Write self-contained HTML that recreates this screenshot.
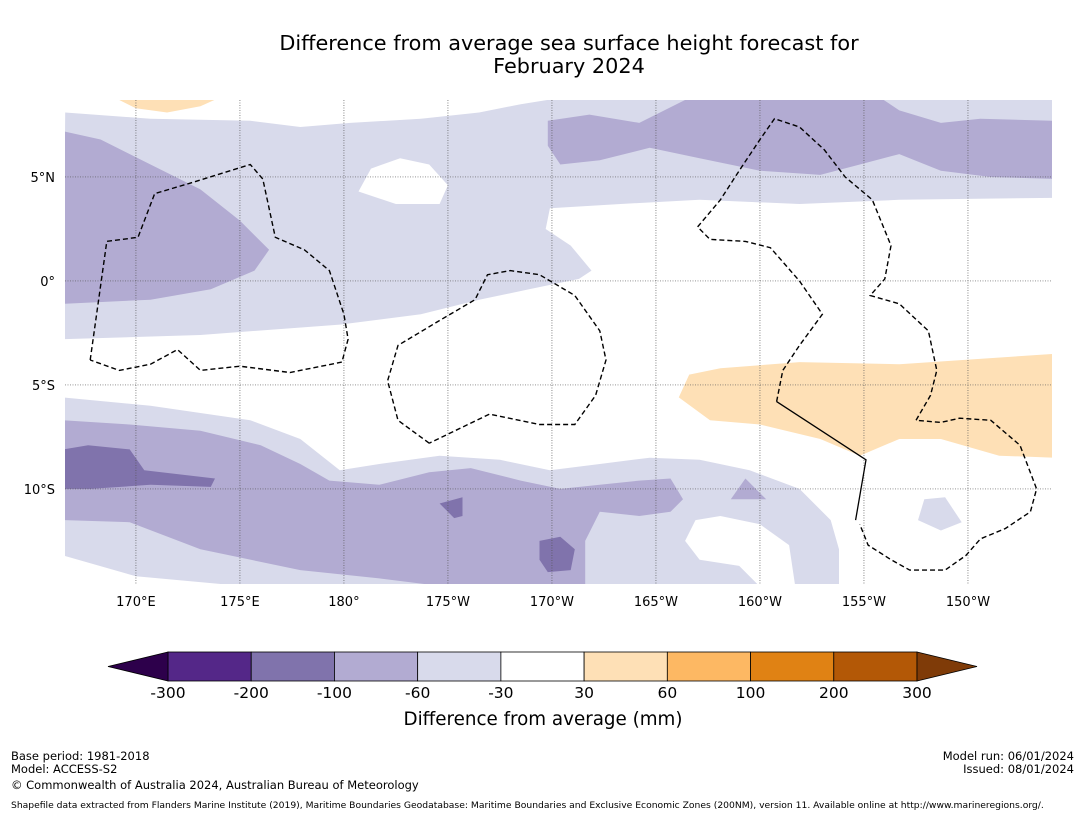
<!DOCTYPE html>
<html><head><meta charset="utf-8"><style>
body{margin:0;background:#fff;width:1085px;height:816px;overflow:hidden;font-family:"DejaVu Sans","Liberation Sans",sans-serif}
svg{position:absolute;left:0;top:0;font-family:"DejaVu Sans","Liberation Sans",sans-serif}
</style></head><body>
<svg id="chart" width="1085" height="816">
<text x="569" y="50" text-anchor="middle" font-size="20.8">Difference from average sea surface height forecast for</text>
<text x="569" y="73" text-anchor="middle" font-size="20.8">February 2024</text>
<g id="map"></g>
<g id="grid"></g>
<g id="eez"></g>
<g id="axes"></g>
<g id="cbar"></g>
<text x="543" y="725" text-anchor="middle" font-size="18.3">Difference from average (mm)</text>
<text x="11" y="760" font-size="11.5">Base period: 1981-2018</text>
<text x="11" y="773" font-size="11.5">Model: ACCESS-S2</text>
<text x="11" y="789" font-size="11.5">© Commonwealth of Australia 2024, Australian Bureau of Meteorology</text>
<text x="1074" y="760" text-anchor="end" font-size="11.5">Model run: 06/01/2024</text>
<text x="1074" y="773" text-anchor="end" font-size="11.5">Issued: 08/01/2024</text>
<text x="11" y="808" font-size="9.2">Shapefile data extracted from Flanders Marine Institute (2019), Maritime Boundaries Geodatabase: Maritime Boundaries and Exclusive Economic Zones (200NM), version 11. Available online at http://www.marineregions.org/.</text>
</svg>
<script>
const lonTicks=[170,175,180,185,190,195,200,205,210];
const lonLabels=["170°E","175°E","180°","175°W","170°W","165°W","160°W","155°W","150°W"];
const latTicks=[5,0,-5,-10];
const latLabels=["5°N","0°","5°S","10°S"];
const levels=["-300","-200","-100","-60","-30","30","60","100","200","300"];
const levelColors=["#542788","#8073ac","#b2abd2","#d8daeb","#ffffff","#fee0b6","#fdb863","#e08214","#b35806"];
const extColors=["#2d004b","#7f3b08"];
const LIGHT="#d8daeb",MED="#b2abd2",DARK="#8073ac",ORANGE="#fee0b6";
const lightTop=[[166.6,8.1],[170.7,7.8],[175.5,7.7],[177.9,7.4],[180.3,7.6],[183.7,7.8],[186.5,8.1],[188.5,8.5],[190.4,8.8],[214.2,8.8],[214.2,4.0],[206.7,3.9],[201.9,3.7],[197.1,3.9],[193.3,3.7],[189.9,3.5],[189.7,2.5],[190.9,1.7],[191.9,0.5],[191.3,0.1],[188.9,-0.4],[186.5,-0.9],[183.7,-1.6],[179.8,-2.1],[173.1,-2.6],[166.5,-2.8]];
const whiteHole=[[180.7,4.3],[181.3,5.4],[182.7,5.9],[184.1,5.6],[185.0,4.6],[184.6,3.7],[182.5,3.7]];
const medTopLeft=[[166.5,7.2],[168.3,6.8],[170.7,5.6],[173.1,4.4],[175.0,2.9],[176.4,1.5],[175.7,0.5],[173.6,-0.4],[170.7,-0.9],[166.5,-1.1]];
const medTopRight=[[189.8,7.7],[191.8,8.0],[194.2,7.6],[196.6,8.8],[205.8,8.8],[206.7,8.2],[208.7,7.6],[210.6,7.8],[214.2,7.7],[214.2,4.9],[211.1,5.0],[208.7,5.3],[206.7,6.1],[204.8,5.6],[202.9,5.1],[200.0,5.3],[197.1,5.9],[194.7,6.4],[192.3,5.8],[190.4,5.6],[189.8,6.5]];
const orangeRight=[[196.1,-5.6],[196.6,-4.5],[198.1,-4.2],[201.9,-3.9],[206.7,-4.0],[214.2,-3.5],[214.2,-8.5],[211.5,-8.4],[208.7,-7.6],[206.7,-7.6],[204.8,-8.4],[202.9,-7.6],[200.0,-6.9],[197.6,-6.7]];
const orangeTop=[[169.0,8.8],[174.0,8.8],[173.1,8.4],[171.5,8.1],[170.0,8.3]];
const lightBottom=[[166.5,-5.6],[170.7,-6.0],[175.5,-6.7],[177.9,-7.6],[179.8,-9.1],[181.7,-8.8],[184.6,-8.4],[187.5,-8.6],[189.9,-9.1],[192.3,-8.8],[194.7,-8.5],[197.1,-8.6],[199.5,-9.1],[201.9,-10.0],[203.4,-11.5],[203.8,-12.9],[203.8,-14.7],[175.5,-14.7],[170.0,-14.2],[166.5,-13.2]];
const whiteBottom=[[196.4,-12.5],[196.9,-11.5],[198.1,-11.3],[200.0,-11.7],[201.4,-12.7],[201.7,-14.7],[200.0,-14.7],[199.0,-13.7],[197.1,-13.4]];
const medBottom=[[166.5,-6.7],[169.7,-6.9],[173.1,-7.2],[176.0,-7.9],[177.9,-8.8],[179.3,-9.6],[181.7,-9.8],[184.1,-9.2],[186.1,-9.0],[188.5,-9.6],[190.4,-10.0],[192.3,-9.8],[194.2,-9.6],[195.7,-9.5],[196.3,-10.5],[195.7,-11.1],[194.2,-11.3],[192.3,-11.1],[191.6,-12.5],[191.6,-14.7],[184.9,-14.7],[181.7,-14.3],[177.9,-13.9],[173.1,-12.9],[169.7,-11.6],[166.5,-11.5]];
const darkA=[[166.5,-8.1],[167.7,-7.9],[169.7,-8.1],[170.4,-9.1],[173.8,-9.5],[173.6,-9.9],[170.7,-9.8],[167.8,-10.0],[166.5,-10.0]];
const darkB=[[184.6,-10.7],[185.7,-10.4],[185.7,-11.3],[185.3,-11.4]];
const darkC=[[189.4,-12.5],[190.4,-12.3],[191.1,-12.9],[190.9,-13.9],[189.8,-14.0],[189.4,-13.4]];
const medSmall=[[198.6,-10.5],[199.3,-9.5],[200.3,-10.5]];
const lightSmall=[[207.6,-11.5],[207.9,-10.5],[208.9,-10.4],[209.7,-11.6],[208.7,-12.0]];
const eezA=[[167.8,-3.8],[168.6,1.9],[170.1,2.1],[170.9,4.2],[172.6,4.7],[175.5,5.6],[176.1,4.9],[176.7,2.1],[178.1,1.5],[179.3,0.5],[180.0,-1.6],[180.2,-2.8],[179.9,-3.9],[177.4,-4.4],[175.0,-4.1],[173.1,-4.3],[172.0,-3.3],[170.7,-4.0],[169.2,-4.3],[167.8,-3.8]];
const eezB=[[184.1,-7.8],[182.6,-6.7],[182.1,-4.8],[182.6,-3.1],[184.6,-1.9],[186.3,-0.9],[186.9,0.3],[188.0,0.5],[189.4,0.3],[191.1,-0.7],[192.3,-2.4],[192.6,-3.8],[192.1,-5.5],[191.1,-6.9],[189.4,-6.9],[187.0,-6.4],[184.1,-7.8]];
const eezC=[[200.8,-5.8],[201.1,-4.3],[201.9,-3.1],[203.0,-1.6],[201.9,0.0],[200.5,1.6],[199.3,1.9],[197.6,2.0],[197.0,2.6],[198.1,3.9],[199.0,5.3],[200.0,6.8],[200.7,7.8],[201.9,7.4],[203.1,6.3],[204.1,5.0],[205.4,3.9],[206.3,1.7],[206.0,0.1],[205.3,-0.7],[206.7,-1.1],[208.1,-2.4],[208.5,-4.3],[208.2,-5.5],[207.5,-6.7],[208.7,-6.8],[209.6,-6.6],[211.1,-6.7],[212.5,-7.9],[213.3,-10.0],[213.0,-11.1],[211.8,-11.9],[210.6,-12.4],[209.9,-13.2],[208.9,-13.9],[207.2,-13.9],[206.3,-13.4],[205.2,-12.7],[204.8,-11.7]];
const solidLine=[[200.8,-5.8],[205.1,-8.6],[204.6,-11.5]];

const X0=65,X1=1052,Y0=100,Y1=584;
const lonMin=166.59,lonMax=214.04,latMax=8.7,latMin=-14.57;
const xs=lon=>X0+(lon-lonMin)/(lonMax-lonMin)*(X1-X0);
const ys=lat=>Y0+(latMax-lat)/(latMax-latMin)*(Y1-Y0);
const NS="http://www.w3.org/2000/svg";
function mk(tag,attrs,parent){const e=document.createElementNS(NS,tag);for(const k in attrs)e.setAttribute(k,attrs[k]);parent.appendChild(e);return e;}
const pts=a=>a.map(p=>xs(p[0]).toFixed(1)+","+ys(p[1]).toFixed(1)).join(" ");
const map=document.getElementById('map');
const cp=mk('clipPath',{id:'clip'},map);mk('rect',{x:X0,y:Y0,width:X1-X0,height:Y1-Y0},cp);
const mg=mk('g',{'clip-path':'url(#clip)'},map);
const layers=[[lightTop,LIGHT,'light-band-north'],[whiteHole,'#fff','neutral-patch-north'],[medTopLeft,MED,'medium-patch-northwest'],[medTopRight,MED,'medium-patch-northeast'],[orangeTop,ORANGE,'orange-patch-north'],[orangeRight,ORANGE,'orange-patch-east'],[lightBottom,LIGHT,'light-band-south'],[whiteBottom,'#fff','neutral-patch-south'],[medBottom,MED,'medium-band-south'],[darkA,DARK,'dark-patch-west'],[darkB,DARK,'dark-patch-center'],[darkC,DARK,'dark-patch-samoa'],[medSmall,MED,'medium-patch-small'],[lightSmall,LIGHT,'light-patch-small']];
layers.forEach(l=>{const p=mk('polygon',{points:pts(l[0]),fill:l[1]},mg);

});
const grid=document.getElementById('grid'),axes=document.getElementById('axes');
lonTicks.forEach((t,i)=>{const l=mk('line',{x1:xs(t),x2:xs(t),y1:Y0,y2:Y1,stroke:'#555','stroke-width':0.7,'stroke-dasharray':'1,1.5'},grid);


const tx=mk('text',{x:xs(t),y:606,'text-anchor':'middle','font-size':13},axes);tx.textContent=lonLabels[i];

});
latTicks.forEach((t,i)=>{const l=mk('line',{x1:X0,x2:X1,y1:ys(t),y2:ys(t),stroke:'#555','stroke-width':0.7,'stroke-dasharray':'1,1.5'},grid);


const tx=mk('text',{x:55,y:ys(t)+5,'text-anchor':'end','font-size':13},axes);tx.textContent=latLabels[i];

});
const eez=document.getElementById('eez');
[eezA,eezB,eezC].forEach((a,i)=>{const p=mk('polyline',{points:pts(a),fill:'none',stroke:'#000','stroke-width':1.4,'stroke-dasharray':'5,3'},eez);

});
const sl=mk('polyline',{points:pts(solidLine),fill:'none',stroke:'#000','stroke-width':1.3},eez);


const cb=document.getElementById('cbar');const CB0=168,CB1=917,CBT=652,CBB=681;const w=(CB1-CB0)/levelColors.length;
levelColors.forEach((c,i)=>{const r=mk('rect',{x:CB0+i*w,y:CBT,width:w,height:CBB-CBT,fill:c,stroke:'#000','stroke-width':0.8},cb);

});
const t1=mk('polygon',{points:`${CB0},${CBT} 108,${(CBT+CBB)/2} ${CB0},${CBB}`,fill:extColors[0],stroke:'#000','stroke-width':0.8},cb);


const t2=mk('polygon',{points:`${CB1},${CBT} 977,${(CBT+CBB)/2} ${CB1},${CBB}`,fill:extColors[1],stroke:'#000','stroke-width':0.8},cb);


levels.forEach((v,i)=>{const tx=mk('text',{x:CB0+i*w,y:698,'text-anchor':'middle','font-size':15.5},cb);tx.textContent=v;

});
</script>
</body></html>
